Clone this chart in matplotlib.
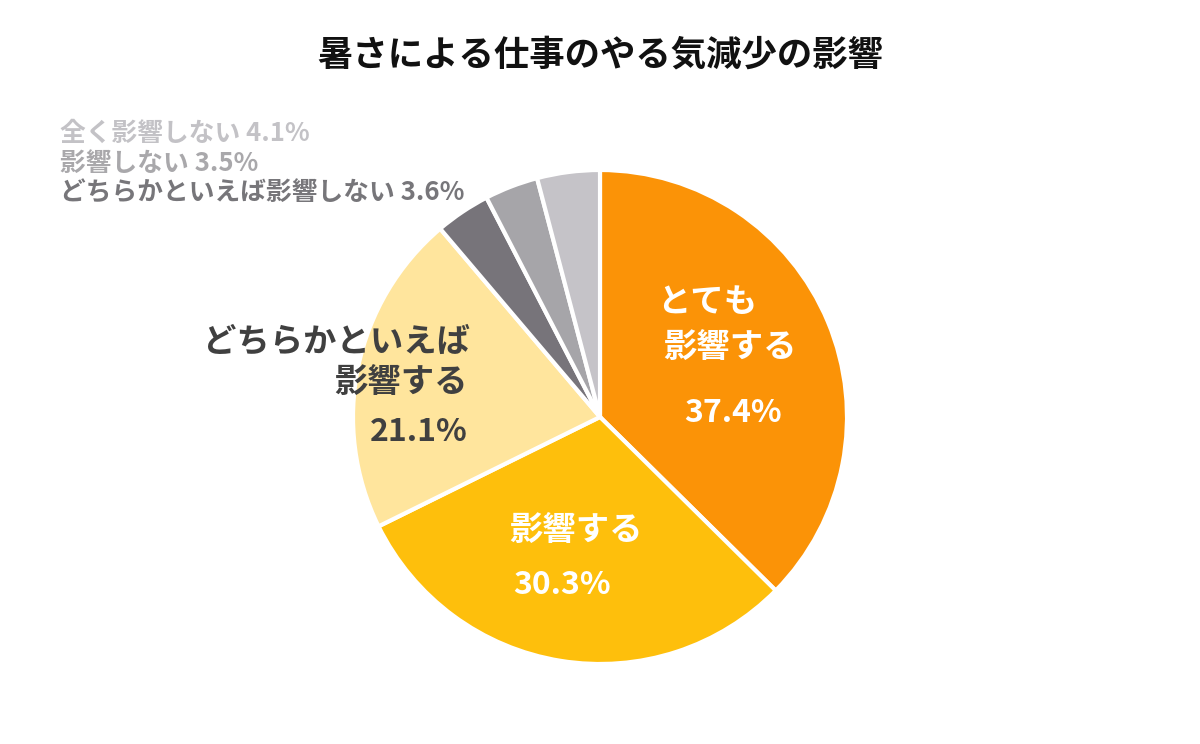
import matplotlib
matplotlib.use('Agg')
import matplotlib.pyplot as plt

plt.rcParams['font.family'] = ['Noto Sans CJK JP', 'DejaVu Sans']

# データ（時計回り、12時から）
labels = ['とても影響する', '影響する', 'どちらかといえば影響する',
          'どちらかといえば影響しない', '影響しない', '全く影響しない']
values = [37.4, 30.3, 21.1, 3.6, 3.5, 4.1]
colors = ['#FB9307', '#FEBF0C', '#FFE59D', '#77747A', '#A6A5A9', '#C5C3C8']

W, H = 1200, 744
fig = plt.figure(figsize=(W / 100, H / 100), dpi=100)
fig.patch.set_facecolor('white')


def fx(px):
    return px / W


def fy(py):
    return 1 - py / H


# 円グラフ: 中心 (600, 417), 半径 247px
cx, cy, r = 600, 417, 247
ax = fig.add_axes([fx(cx - r), fy(cy + r), 2 * r / W, 2 * r / H])
ax.pie(values, colors=colors, startangle=90, counterclock=False,
       wedgeprops=dict(edgecolor='white', linewidth=3))
ax.set_xlim(-1.0, 1.0)
ax.set_ylim(-1.0, 1.0)
ax.set_aspect('equal')
ax.axis('off')

fig.text(0.5, fy(55), '暑さによる仕事のやる気減少の影響', ha='center', va='center',
         fontsize=25.5, fontweight='bold', color='#111111')

# スライス内ラベル
inner = 24
pct = 23
fig.text(fx(707), fy(302), 'とても', ha='center', va='center',
         fontsize=inner, fontweight='bold', color='white')
fig.text(fx(730), fy(347), '影響する', ha='center', va='center',
         fontsize=inner, fontweight='bold', color='white')
fig.text(fx(733), fy(413), f'{values[0]}%', ha='center', va='center',
         fontsize=pct, fontweight='bold', color='white')

fig.text(fx(576), fy(530), '影響する', ha='center', va='center',
         fontsize=inner, fontweight='bold', color='white')
fig.text(fx(562), fy(585), f'{values[1]}%', ha='center', va='center',
         fontsize=pct, fontweight='bold', color='white')

fig.text(fx(470), fy(342), 'どちらかといえば', ha='right', va='center',
         fontsize=inner, fontweight='bold', color='#404040')
fig.text(fx(468), fy(382), '影響する', ha='right', va='center',
         fontsize=inner, fontweight='bold', color='#404040')
fig.text(fx(468), fy(432), f'{values[2]}%', ha='right', va='center',
         fontsize=pct, fontweight='bold', color='#404040')

# 小さいスライスのラベル（左上）
small = [(labels[5], values[5], '#C3C2C6', 133),
         (labels[4], values[4], '#A9A8AB', 163),
         (labels[3], values[3], '#77767A', 193)]
for name, v, c, y in small:
    fig.text(fx(60), fy(y), f'{name} {v}%', ha='left', va='center',
             fontsize=18.5, fontweight='bold', color=c)

fig.savefig('out.png', dpi=100, facecolor=fig.get_facecolor())
